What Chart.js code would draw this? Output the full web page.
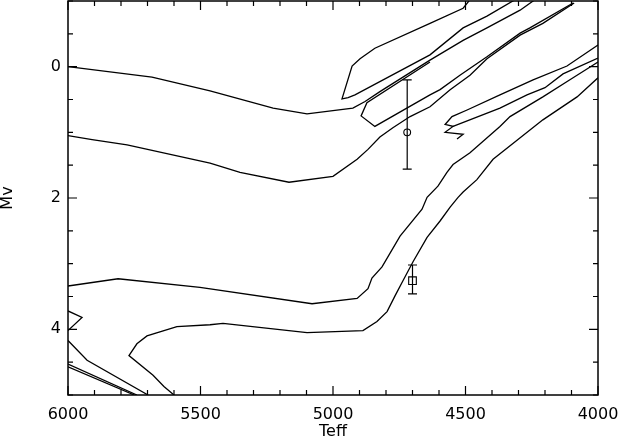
<!DOCTYPE html>
<html><head><meta charset="utf-8">
<script src="https://cdn.jsdelivr.net/npm/chart.js@4/dist/chart.umd.min.js"></script>
<style>html,body{margin:0;padding:0;background:#fff}canvas{display:block}</style>
</head><body>
<canvas id="c" width="622" height="441"></canvas>
<script>
// Track data: [Teff, Mv]
const trackA = [[6000,0.00],[5683,0.16],[5464,0.37],[5226,0.63],[5098,0.72],[4925,0.63],[4879,0.53],[4823,0.38],[4634,-0.10],[4509,-0.40],[4419,-0.59],[4294,-0.86],[4238,-1.02]];
const trackLoop = [[4483,-1.02],[4509,-0.89],[4634,-0.66],[4842,-0.28],[4898,-0.12],[4928,-0.01],[4966,0.49],[4943,0.47],[4917,0.43],[4634,-0.18],[4509,-0.59],[4419,-0.77],[4313,-1.02]];
const trackClump = [[4634,-0.07],[4872,0.55],[4894,0.75],[4842,0.91],[4634,0.43],[4596,0.35],[4521,0.13],[4419,-0.15],[4294,-0.51],[4257,-0.59],[4094,-0.97]];
const trackB = [[6000,1.05],[5909,1.11],[5777,1.19],[5464,1.47],[5351,1.61],[5166,1.76],[5000,1.67],[4909,1.41],[4868,1.26],[4823,1.07],[4774,0.93],[4709,0.76],[4634,0.61],[4558,0.35],[4483,0.13],[4419,-0.12],[4294,-0.48],[4208,-0.66],[4090,-0.97]];
const trackZ1 = [[4000,-0.33],[4117,-0.01],[4245,0.20],[4370,0.43],[4494,0.66],[4551,0.76],[4577,0.88],[4547,0.91],[4577,1.00],[4509,1.03],[4532,1.10]];
const trackZ2 = [[4547,0.91],[4370,0.63],[4268,0.43],[4200,0.32],[4132,0.11],[4000,-0.13]];
const trackC = [[6000,3.34],[5811,3.23],[5502,3.36],[5079,3.61],[4909,3.53],[4868,3.38],[4853,3.22],[4815,3.05],[4747,2.58],[4664,2.17],[4645,1.99],[4604,1.82],[4570,1.61],[4547,1.49],[4483,1.31],[4426,1.11],[4370,0.91],[4332,0.76],[4208,0.46],[4106,0.20],[4000,-0.07]];
const trackD = [[5600,5.0],[5638,4.87],[5679,4.70],[5770,4.40],[5740,4.22],[5702,4.10],[5589,3.96],[5464,3.93],[5415,3.91],[5098,4.05],[4887,4.02],[4834,3.88],[4796,3.73],[4766,3.49],[4736,3.26],[4698,2.97],[4645,2.60],[4596,2.35],[4558,2.14],[4528,1.99],[4509,1.91],[4457,1.72],[4396,1.41],[4302,1.11],[4208,0.81],[4079,0.46],[4000,0.17]];
const trackE = [[6000,3.72],[5947,3.82],[6000,4.02]];
const trackF = [[6000,4.17],[5928,4.47],[5698,5.0]];
const trackG1 = [[6000,4.53],[5740,5.0]];
const trackG2 = [[6000,4.57],[5750,5.0]];

// Observed stars with Mv error bars
const obsTeff = [4720, 4700];
const obsMv = [1.00, 3.26];
const obsMvLow = [0.20, 3.02];
const obsMvHigh = [1.56, 3.46];
const obsStyle = ['circle', 'rect'];

// Axis ticks
const xTickLabels = [6000, 5500, 5000, 4500, 4000];
const yTickLabels = [0, 2, 4];
const xMinorStep = 100;
const yMinorStep = 0.5;

const toXY = arr => arr.map(([x, y]) => ({x, y}));
const tracks = [trackA, trackLoop, trackClump, trackB, trackZ1, trackZ2, trackC, trackD, trackE, trackF, trackG1, trackG2];

const datasets = tracks.map(t => ({
  data: toXY(t), showLine: true, borderColor: '#000', borderWidth: 1.3,
  pointRadius: 0, pointHoverRadius: 0, fill: false, tension: 0
}));
obsTeff.forEach((t, i) => {
  datasets.push({
    data: [{x: t, y: obsMv[i]}], showLine: false,
    pointStyle: obsStyle[i], pointRadius: obsStyle[i] === 'rect' ? 5.4 : 3.4,
    backgroundColor: 'rgba(0,0,0,0)', borderColor: '#000', borderWidth: 1.1
  });
});

const framePlugin = {
  id: 'frame',
  afterDatasetsDraw(chart) {
    const {ctx, chartArea: {left, right, top, bottom}, scales: {x, y}} = chart;
    ctx.save();
    ctx.strokeStyle = '#000';
    ctx.lineWidth = 1.2;
    // error bars
    obsTeff.forEach((t, i) => {
      const px = x.getPixelForValue(t);
      const y1 = y.getPixelForValue(obsMvLow[i]);
      const y2 = y.getPixelForValue(obsMvHigh[i]);
      ctx.beginPath();
      ctx.moveTo(px, y1); ctx.lineTo(px, y2);
      ctx.moveTo(px - 4.5, y1); ctx.lineTo(px + 4.5, y1);
      ctx.moveTo(px - 4.5, y2); ctx.lineTo(px + 4.5, y2);
      ctx.stroke();
    });
    // frame
    ctx.lineWidth = 1.5;
    ctx.strokeRect(left, top, right - left, bottom - top);
    ctx.lineWidth = 1.2;
    ctx.beginPath();
    for (let v = x.min; v <= x.max + 1e-6; v += xMinorStep) {
      const px = x.getPixelForValue(v);
      const len = xTickLabels.includes(Math.round(v)) ? 9 : 5;
      ctx.moveTo(px, bottom); ctx.lineTo(px, bottom - len);
      ctx.moveTo(px, top); ctx.lineTo(px, top + len);
    }
    for (let v = y.min; v <= y.max + 1e-6; v += yMinorStep) {
      const py = y.getPixelForValue(v);
      const len = yTickLabels.includes(v) ? 9 : 5;
      ctx.moveTo(left, py); ctx.lineTo(left + len, py);
      ctx.moveTo(right, py); ctx.lineTo(right - len, py);
    }
    ctx.stroke();
    ctx.restore();
  }
};

const font = {family: 'DejaVu Sans', size: 16, weight: 'normal'};
const zeroPad = s => { s.paddingLeft = 0; s.paddingRight = 0; s.paddingTop = 0; s.paddingBottom = 0; };

new Chart(document.getElementById('c'), {
  type: 'scatter',
  data: {datasets},
  options: {
    responsive: false,
    animation: false,
    events: [],
    layout: {autoPadding: false, padding: {top: 1, right: 24, left: 0, bottom: 0}},
    plugins: {legend: {display: false}, tooltip: {enabled: false}},
    scales: {
      x: {
        type: 'linear', min: 4000, max: 6000, reverse: true,
        afterBuildTicks: s => { s.ticks = xTickLabels.map(v => ({value: v})); },
        afterFit: s => { s.height = 46; zeroPad(s); },
        ticks: {font, color: '#000', padding: 10, maxRotation: 0, autoSkip: false, callback: v => String(v)},
        grid: {display: false, drawTicks: false},
        border: {display: false},
        title: {display: true, text: 'Teff', font, color: '#000', padding: {top: 0, bottom: 0}}
      },
      y: {
        type: 'linear', min: -1, max: 5, reverse: true,
        afterBuildTicks: s => { s.ticks = yTickLabels.map(v => ({value: v})); },
        afterFit: s => { s.width = 68; zeroPad(s); },
        ticks: {font, color: '#000', padding: 7, autoSkip: false, callback: v => String(v)},
        grid: {display: false, drawTicks: false},
        border: {display: false},
        title: {display: true, text: 'Mv', font, color: '#000', padding: {top: -2, bottom: 0}}
      }
    }
  },
  plugins: [framePlugin]
});
</script>
</body></html>
